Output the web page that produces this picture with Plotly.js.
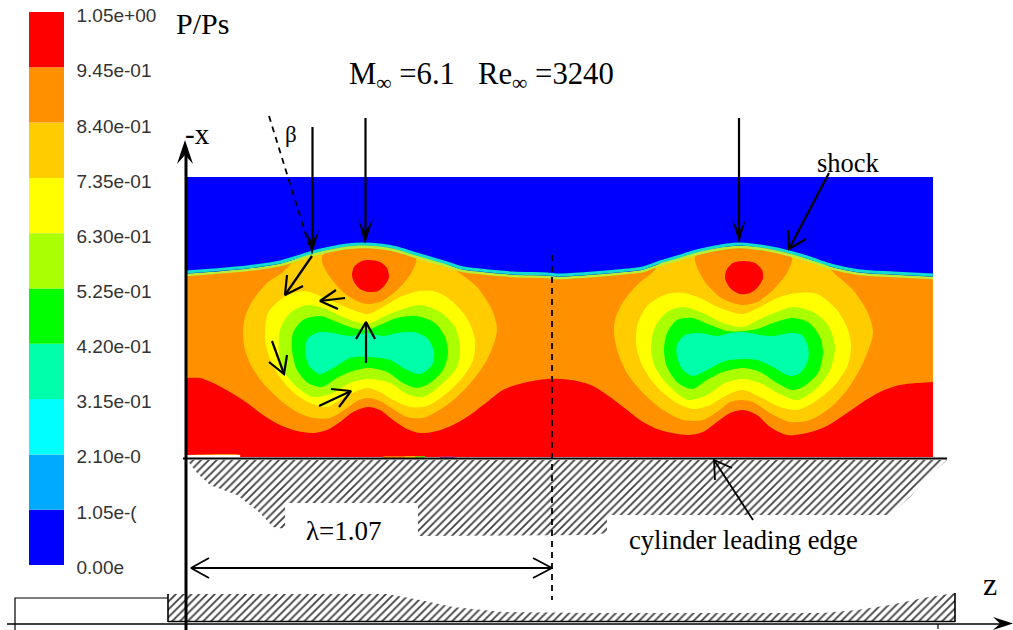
<!DOCTYPE html>
<html><head><meta charset="utf-8">
<script src="https://cdn.plot.ly/plotly-3.0.1.min.js"></script>
<style>html,body{margin:0;padding:0;background:#fff}#c{width:1013px;height:630px}</style></head>
<body><div id="c"></div>
<script>
// Colour scale
const levelBase = [0,0.105,0.21,0.315,0.42,0.525,0.63,0.735,0.84,0.945];
const levelStep = [0.105,0.105,0.105,0.105,0.105,0.105,0.105,0.105,0.105,0.105];
const levelColors = ['#0000ff','#00aaff','#00ffff','#00ffaa','#00ff00','#aaff00','#ffff00','#ffcc00','#ff9000','#ff0000'];
const tickValues = [1.05,0.945,0.84,0.735,0.63,0.525,0.42,0.315,0.21,0.105,0];
const tickLabels = ['1.05e+00','9.45e-01','8.40e-01','7.35e-01','6.30e-01','5.25e-01','4.20e-01','3.15e-01','2.10e-0','1.05e-(','0.00e'];

// Field extents and shock
const fieldBlue = [[186,177],[933,177],[933,455],[186,455]];
const shockX = [186,213,247,280,297,313,330,347,363,380,397,413,430,447,463,480,513,547,560,593,627,643,660,677,693,710,727,740,760,777,793,810,827,843,860,893,933];
const shockUpperY = [272,270,267,262,257,252,248,245,244,245,248,253,258,263,268,270,273,274,275,273,270,268,262,257,252,248,245,244,246,249,253,258,264,268,271,273,275];
const shockLowerY = [275,273,270,265,260,255,251,248,247,248,251,256,261,266,271,273,276,277,278,276,273,271,265,260,255,251,248,247,249,252,256,261,267,271,274,276,278];

// Contour bands, left cell
const leftGold = [[283,272],[267,283],[253,300],[245,317],[243,333],[245,350],[252,367],[263,383],[280,400],[297,412],[313,418],[330,418],[347,408],[357,401],[368,398],[380,401],[393,409],[407,417],[423,418],[447,405],[467,387],[487,360],[497,330],[492,310],[477,287],[458,272],[447,264],[430,259],[413,254],[397,249],[380,246],[363,245],[347,246],[330,249],[313,253],[297,258]];
const leftLobe = [[322,256],[323,265],[330,277],[343,292],[357,301],[368,304],[382,301],[397,290],[410,275],[416,262],[415,255],[397,250],[380,247],[363,246],[347,247],[330,250]];
const leftSpot = [[370,260],[380,262],[387,268],[389,277],[385,285],[378,291],[368,292],[360,289],[354,282],[352,275],[354,267],[362,261]];
const leftYellow = [[368,314],[383,307],[400,297],[420,291],[437,292],[453,302],[468,320],[475,340],[473,360],[463,377],[447,393],[427,406],[410,407],[393,400],[380,392],[368,388],[357,391],[343,398],[327,407],[310,403],[293,392],[277,373],[267,350],[265,333],[268,313],[280,300],[293,293],[305,291],[320,296],[337,303],[353,310]];
const leftLime = [[368,324],[383,317],[400,310],[420,305],[440,312],[455,327],[460,347],[457,367],[443,383],[423,397],[407,394],[390,383],[368,379],[350,383],[333,393],[313,397],[297,387],[283,370],[279,350],[280,330],[290,313],[307,305],[323,308],[343,317],[357,322]];
const leftGreen = [[367,330],[380,325],[397,318],[417,316],[435,323],[445,337],[448,353],[443,370],[430,383],[417,388],[403,383],[387,372],[368,368],[350,372],[337,378],[322,387],[308,383],[297,370],[292,350],[293,333],[303,320],[320,316],[337,322],[353,328]];
const leftTeal = [[367,333],[383,336],[397,333],[413,332],[427,338],[434,352],[432,365],[420,374],[407,370],[390,360],[368,357],[350,358],[333,368],[320,374],[310,367],[305,352],[308,338],[320,332],[333,333],[350,336]];

// Contour bands, right cell
const rightGold = [[653,272],[637,285],[623,302],[615,320],[614,333],[618,353],[627,373],[643,393],[663,410],[683,420],[703,420],[717,412],[730,402],[742,400],[753,402],[770,413],[790,422],[810,420],[830,408],[847,390],[863,363],[873,333],[868,313],[853,290],[833,272],[827,265],[810,260],[793,254],[777,250],[760,247],[740,246],[727,247],[710,249],[693,253],[677,258],[660,263]];
const rightLobe = [[695,257],[697,267],[705,282],[720,297],[733,303],[743,305],[757,302],[773,290],[787,273],[792,260],[790,253],[777,250],[760,248],[740,247],[727,248],[710,250]];
const rightSpot = [[743,261],[755,263],[762,270],[763,278],[758,287],[750,293],[740,294],[730,288],[725,278],[727,269],[733,263]];
const rightYellow = [[743,314],[760,307],[777,298],[797,293],[817,294],[837,310],[848,330],[851,347],[847,367],[833,387],[813,403],[797,410],[780,407],[760,397],[743,390],[727,395],[710,405],[693,409],[677,403],[657,387],[642,365],[636,343],[638,323],[648,305],[667,294],[683,293],[700,298],[720,308]];
const rightLime = [[743,327],[760,319],[777,312],[793,307],[813,312],[828,325],[835,347],[830,370],[817,388],[797,400],[780,394],[760,383],[743,379],[725,383],[707,395],[688,400],[670,387],[655,367],[651,347],[655,327],[667,312],[683,307],[703,313],[723,323]];
const rightGreen = [[743,331],[757,329],[773,323],[792,318],[808,322],[820,337],[823,353],[818,373],[803,387],[792,390],[777,383],[760,372],[743,368],[723,372],[707,380],[692,389],[678,383],[667,367],[664,350],[667,333],[677,320],[692,318],[708,324],[727,331]];
const rightTeal = [[743,332],[760,335],[773,336],[790,333],[802,335],[808,347],[808,360],[800,373],[790,376],[773,367],[757,360],[743,359],[725,361],[707,370],[693,376],[683,370],[677,357],[677,345],[685,335],[700,333],[717,336],[730,333]];

// Red wall band: the top edge is smoothed, the bottom is a plain block under it
const redTop = [[186,378],[200,378],[213,383],[230,392],[247,403],[263,415],[280,425],[297,431],[313,433],[327,430],[340,422],[353,412],[368,407],[380,410],[393,420],[407,429],[420,433],[437,431],[453,425],[470,415],[487,402],[503,390],[523,383],[547,379],[560,379],[577,381],[593,386],[610,397],[627,410],[643,422],[660,430],[687,435],[703,432],[717,422],[730,413],[743,410],[757,415],[770,427],[787,435],[807,433],[827,426],[847,413],[863,402],[880,392],[900,385],[933,382],[933,382],[933,457],[933,457],[240,457],[240,457],[240,455],[186,455],[186,455],[186,378]];

// Hatched bodies
const cylinderEdge = [[187,460],[947,460],[927,478],[910,497],[890,515],[607,515],[607,533],[590,535],[418,536],[418,503],[285,503],[285,529],[273,527],[260,513],[237,495],[210,485],[197,473]];
const lowerBody = [[168,594],[387,594],[420,600],[453,607],[503,612],[590,613],[823,613],[857,610],[890,605],[923,598],[955,593],[955,621],[168,621]];

// Thin lines and arrows: [width, points]
const strokes = [
 [1.6,[[7,624],[1000,624]]],
 [1.6,[[168,621.5],[955,621.5]]],
 [1.6,[[955,593],[955,622]]],
 [1.6,[[168,594],[168,622]]],
 [1.2,[[15,630],[15,598],[168,598]]],
 [1.2,[[938,624],[938,629]]],
 [1.8,[[183,458.5],[947,458.5]]],
 [3,[[186,630],[186,150]]],
 [2.2,[[312.5,127],[312.5,245]]],
 [2.2,[[365.5,118],[365.5,235]]],
 [2.2,[[739,118],[739,235]]],
 [2.2,[[312,256],[285,295]]],
 [2.2,[[287,275],[285,295],[303,286]]],
 [2.2,[[345,298],[320,301]]],
 [2.2,[[336,290],[320,301],[338,309]]],
 [2.2,[[366,363],[366,322]]],
 [2.2,[[356,339],[366,322],[375,339]]],
 [2.2,[[272,341],[284,374]]],
 [2.2,[[269,362],[284,374],[287,355]]],
 [2.2,[[319,406],[351,391]]],
 [2.2,[[331,389],[351,391],[339,407]]],
 [2.2,[[829,173],[789,249]]],
 [2.2,[[788,230],[789,249],[806,239]]],
 [1.8,[[191,568],[552,568]]],
 [1.8,[[209,558],[191,568],[209,578]]],
 [1.8,[[533,558],[552,568],[533,578]]],
 [1.8,[[753,520],[714,460]]],
 [1.8,[[715,480],[714,460],[732,468]]]
];
const dashed = [[[269,116],[309,245]],[[552,255],[552,600]]];
const solidHeads = [
 [[185,140],[193,164],[185,155],[177,164]],
 [[312,255],[319,230],[312,242],[306,232]],
 [[365,244],[373,219],[365,232],[358,219]],
 [[739,243],[746,219],[739,232],[732,219]],
 [[1013,623.5],[993,617],[1000,623.5],[993,630]]
];
const wallSliver = [['#ff9000',[[383,457],[405,457]]],['#ffe000',[[405,457],[415,457]]],['#60f000',[[415,457],[425,457]]],['#c03080',[[440,457],[455,457]]]];

// Text: [string, left x, mid y, size]
const serifLabels = [
 ['P/Ps',175,23,30],
 ['M<sub>∞</sub> =6.1\u00a0\u00a0\u00a0Re<sub>∞</sub> =3240',348,76,30.7],
 ['-x',184,134,29],
 ['β',284,134,23],
 ['shock',816,163,26.5],
 ['λ=1.07',305,531,27],
 ['cylinder leading edge',628,540,26.6],
 ['z',982,584,32]
];

const xs = p => p.map(q => q[0]);
const ys = p => p.map(q => q[1]);
const close = p => p.concat([p[0]]);
const traces = [];
function area(p, color, smooth){
  const c = close(p);
  traces.push({type:'scatter',mode:'lines',x:xs(c),y:ys(c),fill:'toself',fillcolor:color,hoverinfo:'skip',
    line:{width:0,color:color,shape:smooth?'spline':'linear',smoothing:0.8}});
}
function hatch(p){
  const c = close(p);
  traces.push({type:'scatter',mode:'lines',x:xs(c),y:ys(c),fill:'toself',fillcolor:'rgba(0,0,0,0)',hoverinfo:'skip',
    line:{width:0,color:'#fff'},
    fillpattern:{shape:'/',fgcolor:'#404040',bgcolor:'#ffffff',size:5.5,solidity:0.33}});
}
function stroke(p,w,color,dash){
  traces.push({type:'scatter',mode:'lines',x:xs(p),y:ys(p),hoverinfo:'skip',line:{width:w,color:color||'#000',dash:dash||'solid'}});
}
const C = {red:'#ff0000',orange:'#ff9000',gold:'#ffcc00',yellow:'#ffff00',lime:'#aaff00',green:'#00ff00',teal:'#00ffaa'};

traces.push({type:'bar',x:levelBase.map(()=>46.5),y:levelStep,base:levelBase,width:35,xaxis:'x',yaxis:'y2',
  marker:{color:levelColors,line:{width:0}},hoverinfo:'skip'});
traces.push({type:'scatter',mode:'text',x:tickValues.map(()=>76.5),y:tickValues,text:tickLabels,textposition:'middle right',cliponaxis:false,
  xaxis:'x',yaxis:'y3',textfont:{family:'Liberation Sans, Arial, sans-serif',size:19,color:'#333'},hoverinfo:'skip'});

area(fieldBlue,'#0000ff');
const orangeBase = shockX.map((x,i)=>[x,shockLowerY[i]]).concat([[933,455],[186,455]]);
area(orangeBase,C.orange);
area(leftGold,C.gold,1); area(rightGold,C.gold,1);
area(leftLobe,C.orange,1); area(rightLobe,C.orange,1);
area(leftSpot,C.red,1); area(rightSpot,C.red,1);
area(leftYellow,C.yellow,1); area(rightYellow,C.yellow,1);
area(leftLime,C.lime,1); area(rightLime,C.lime,1);
area(leftGreen,C.green,1); area(rightGreen,C.green,1);
area(leftTeal,C.teal,1); area(rightTeal,C.teal,1);
area(redTop,C.red,1);
traces.push({type:'scatter',mode:'lines',x:shockX,y:shockLowerY,hoverinfo:'skip',line:{width:2.5,color:'#b8f038',shape:'spline',smoothing:0.8}});
traces.push({type:'scatter',mode:'lines',x:shockX,y:shockUpperY,hoverinfo:'skip',line:{width:3,color:'#10dcd0',shape:'spline',smoothing:0.8}});
wallSliver.forEach(s=>stroke(s[1],1.5,s[0]));
hatch(cylinderEdge); hatch(lowerBody);
strokes.forEach(s=>stroke(s[1],s[0]));
dashed.forEach(d=>stroke(d,1.8,'#000','6px,5px'));
solidHeads.forEach(h=>area(h,'#000'));

const annotations = serifLabels.map(t=>({text:t[0],x:t[1],y:t[2],xref:'x',yref:'y',xanchor:'left',yanchor:'middle',showarrow:false,
  font:{family:'Liberation Serif, Times New Roman, serif',size:t[3],color:'#000'},borderpad:0,align:'left'}));

const layout = {
  width:1013,height:630,margin:{l:0,r:0,t:0,b:0},paper_bgcolor:'#fff',plot_bgcolor:'rgba(0,0,0,0)',showlegend:false,barmode:'overlay',
  xaxis:{range:[0,1013],visible:false,fixedrange:true,domain:[0,1]},
  yaxis:{range:[630,0],visible:false,fixedrange:true,domain:[0,1]},
  yaxis2:{range:[0,1.05],visible:false,fixedrange:true,domain:[65/630,618/630],anchor:'x'},
  yaxis3:{range:[0,1.05],visible:false,fixedrange:true,domain:[61/630,612.5/630],anchor:'x'},
  annotations:annotations
};
Plotly.newPlot('c',traces,layout,{displayModeBar:false,staticPlot:true});
</script></body></html>
